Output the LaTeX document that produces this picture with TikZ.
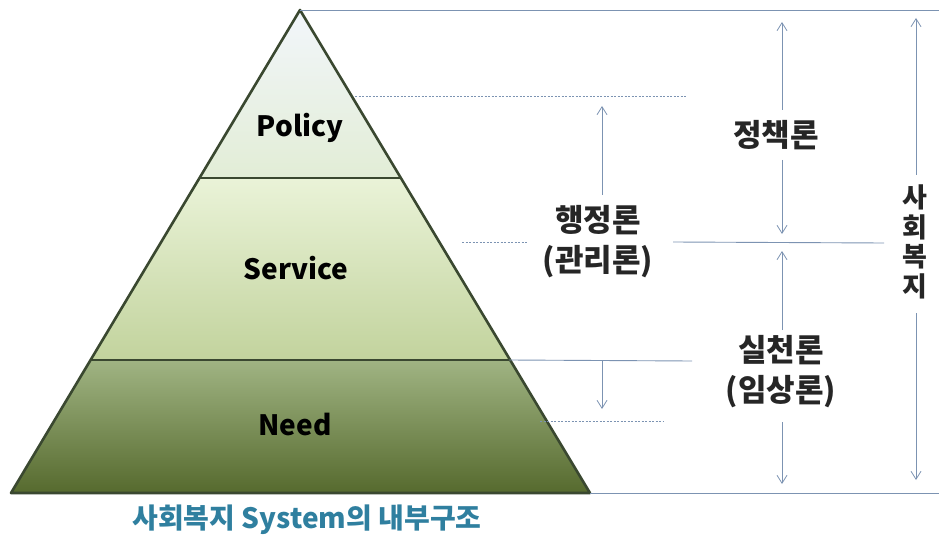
\documentclass[tikz,border=0pt]{standalone}
\usepackage{fontspec}
\setmainfont{Noto Sans CJK KR}
\usetikzlibrary{arrows.meta}
\definecolor{edgecol}{HTML}{3A4830}
\definecolor{guide}{HTML}{7C93B2}
\definecolor{captcol}{HTML}{2F7F9F}
\definecolor{polTop}{HTML}{F2F6FB}
\definecolor{polBot}{HTML}{E2EDD6}
\definecolor{serTop}{HTML}{EAF3D8}
\definecolor{serBot}{HTML}{C2D39D}
\definecolor{needTop}{HTML}{A0B483}
\definecolor{needBot}{HTML}{566A2E}
\tikzset{
  layerlabel/.style={font=\fontsize{28}{32}\selectfont\bfseries, text=black, inner sep=0pt},
  korlabel/.style={font=\fontsize{31}{40}\selectfont\bfseries, text=black!85, align=center, inner sep=0pt},
  guideline/.style={guide, line width=0.9pt},
  dashguide/.style={guide, line width=0.8pt, dash pattern=on 2pt off 1.5pt},
  span/.style={guide, line width=0.8pt, -{Straight Barb[length=8pt, width=10pt, line width=0.8pt]}},
}
\begin{document}
\begin{tikzpicture}[x=1pt, y=-1pt]
\useasboundingbox (0,0) rectangle (939,540);
% pyramid corners
\coordinate (apex) at (300,10);
\coordinate (bl) at (11,493);
\coordinate (br) at (590,493);
\coordinate (l1) at (199.5,178);
\coordinate (r1) at (400.5,178);
\coordinate (l2) at (90.6,360);
\coordinate (r2) at (509.4,360);
% layers
\shade[top color=polTop, bottom color=polBot] (apex) -- (r1) -- (l1) -- cycle;
\shade[top color=serTop, bottom color=serBot] (l1) -- (r1) -- (r2) -- (l2) -- cycle;
\shade[top color=needTop, bottom color=needBot] (l2) -- (r2) -- (br) -- (bl) -- cycle;
\draw[edgecol, line width=1.6pt] (l1) -- (r1);
\draw[edgecol, line width=1.6pt] (l2) -- (r2);
\draw[edgecol, line width=2.6pt, line join=round] (apex) -- (br) -- (bl) -- cycle;
% labels in pyramid
\node[layerlabel] (policy) at (300,128) {Policy};
\node[layerlabel] (service) at (296,268) {Service};
\node[layerlabel] (need) at (295,425) {Need};
% guide lines
\coordinate (topR) at (939,10);
\coordinate (botR) at (939,493);
\draw[guideline] (apex) -- (topR);
\draw[guideline] (br) -- (botR);
\coordinate (d1a) at (355,96); \coordinate (d1b) at (686,96);
\draw[dashguide] (d1a) -- (d1b);
\coordinate (d2a) at (462,242); \coordinate (d2b) at (528,242);
\draw[dashguide] (d2a) -- (d2b);
\coordinate (s1a) at (673,242); \coordinate (s1b) at (884,243);
\draw[guideline] (s1a) -- (s1b);
\coordinate (s2b) at (692,361);
\draw[guideline] (r2) -- (s2b);
\coordinate (d3a) at (540,421); \coordinate (d3b) at (663,421);
\draw[dashguide] (d3a) -- (d3b);
% Korean labels
\node[korlabel] (haeng) at (598,242) {행정론\\(관리론)};
\node[korlabel] (jeong) at (776,135) {정책론};
\node[korlabel] (silcheon) at (781,372) {실천론\\(임상론)};
\node[font=\fontsize{27}{29.5}\selectfont\bfseries, text=black!85, align=center, inner sep=0pt] (sahoe) at (915,242) {사\\회\\복\\지};
% arrows
\coordinate (a1s) at (602,195); \coordinate (a1e) at (602,106);
\draw[span] (a1s) -- (a1e);
\coordinate (a2s) at (602,361); \coordinate (a2e) at (602,409);
\draw[span] (a2s) -- (a2e);
\coordinate (a3s) at (782,110); \coordinate (a3e) at (782,22);
\draw[span] (a3s) -- (a3e);
\coordinate (a4s) at (782,160); \coordinate (a4e) at (782,234);
\draw[span] (a4s) -- (a4e);
\coordinate (a5s) at (782,330); \coordinate (a5e) at (782,251);
\draw[span] (a5s) -- (a5e);
\coordinate (a6s) at (782,422); \coordinate (a6e) at (782,484);
\draw[span] (a6s) -- (a6e);
\coordinate (a7s) at (916,175); \coordinate (a7e) at (916,18);
\draw[span] (a7s) -- (a7e);
\coordinate (a8s) at (916,313); \coordinate (a8e) at (916,480);
\draw[span] (a8s) -- (a8e);
% caption
\node[font=\fontsize{28}{32}\selectfont\bfseries, text=captcol, inner sep=0pt] (caption) at (307,520) {사회복지 System의 내부구조};
\end{tikzpicture}
\end{document}
